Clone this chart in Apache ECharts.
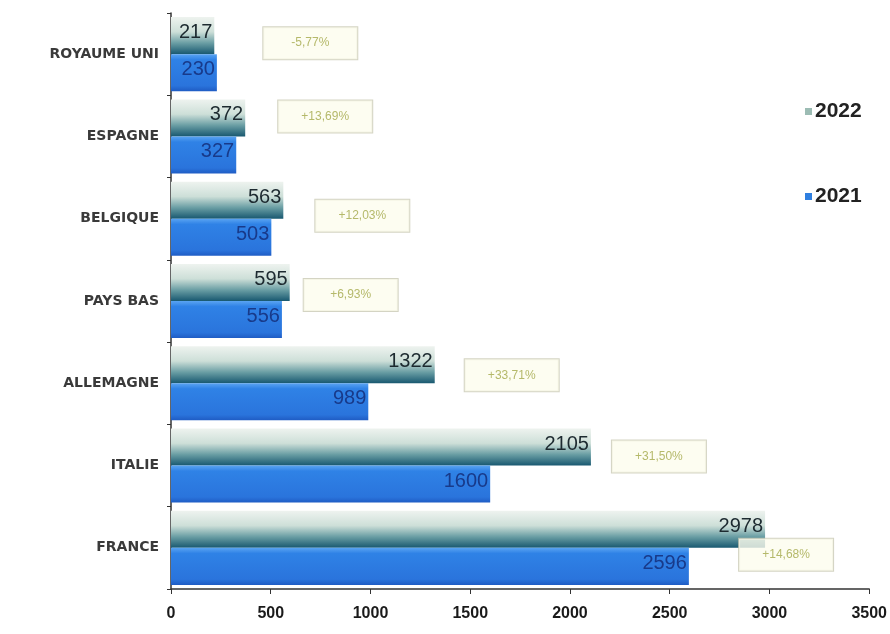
<!DOCTYPE html>
<html>
<head>
<meta charset="utf-8">
<script src="https://cdn.jsdelivr.net/npm/echarts@6/dist/echarts.min.js"></script>
<style>
html,body{margin:0;padding:0;background:#ffffff;}
#chart{width:890px;height:634px;}
</style>
</head>
<body>
<div id="chart"></div>
<script>
// ---- data ----
var categories = ['ROYAUME UNI', 'ESPAGNE', 'BELGIQUE', 'PAYS BAS', 'ALLEMAGNE', 'ITALIE', 'FRANCE'];
var values2022 = [217, 372, 563, 595, 1322, 2105, 2978];
var values2021 = [230, 327, 503, 556, 989, 1600, 2596];
var pctLabels = ['-5,77%', '+13,69%', '+12,03%', '+6,93%', '+33,71%', '+31,50%', '+14,68%'];
var xTicks = [0, 500, 1000, 1500, 2000, 2500, 3000, 3500];

// ---- layout of the percentage boxes (pixel offsets from bar end) ----
var pctOffsets = [[96, -11], [80, -20], [79, -3], [61, -6], [77, -8], [68, -9], [21, 7]];

var narrow = "'Liberation Sans Narrow', 'Liberation Sans', Arial, sans-serif";

var chart = echarts.init(document.getElementById('chart'));

var grad2022 = new echarts.graphic.LinearGradient(0, 0, 0, 1, [
  {offset: 0, color: '#eef3ef'},
  {offset: 0.4, color: '#cddfd8'},
  {offset: 0.7, color: '#6a9ea4'},
  {offset: 1, color: '#185870'}
]);
var grad2021 = new echarts.graphic.LinearGradient(0, 0, 0, 1, [
  {offset: 0, color: '#5aa4f2'},
  {offset: 0.15, color: '#2f82e6'},
  {offset: 0.85, color: '#2a74dc'},
  {offset: 1, color: '#1f5cc4'}
]);

var pctData = values2022.map(function (v, i) {
  return {
    value: [v, i],
    label: {
      formatter: pctLabels[i],
      offset: [pctOffsets[i][0], pctOffsets[i][1]]
    }
  };
});

chart.setOption({
  backgroundColor: '#ffffff',
  animation: false,
  grid: {left: 171, right: 19, top: 13, bottom: 45},
  legend: {
    orient: 'vertical',
    left: 800,
    top: 96,
    itemGap: 64,
    itemWidth: 7,
    itemHeight: 7,
    icon: 'rect',
    data: [
      {name: '2022', itemStyle: {color: '#9cbcb4'}},
      {name: '2021', itemStyle: {color: '#2f7fe0'}}
    ],
    textStyle: {fontFamily: narrow, fontSize: 21, fontWeight: 'bold', color: '#222222', padding: [0, 0, 0, -2]}
  },
  xAxis: {
    type: 'value',
    min: 0,
    max: 3500,
    interval: 500,
    splitLine: {show: false},
    axisLine: {show: true, lineStyle: {color: '#333333', width: 1.5}},
    axisTick: {show: true, length: 5, lineStyle: {color: '#333333'}},
    axisLabel: {
      margin: 17,
      fontFamily: narrow,
      fontSize: 16,
      fontWeight: 'bold',
      color: '#1a1a1a',
      formatter: function (v) { return xTicks.indexOf(v) >= 0 ? String(v) : ''; }
    }
  },
  yAxis: {
    type: 'category',
    data: categories,
    inverse: true,
    axisLine: {show: true, lineStyle: {color: '#333333', width: 1.5}},
    axisTick: {show: true, length: 4, lineStyle: {color: '#333333'}},
    axisLabel: {
      margin: 12,
      fontFamily: "'DejaVu Sans', sans-serif",
      fontSize: 14,
      fontWeight: 'bold',
      color: '#3a3a3a'
    }
  },
  series: [
    {
      name: '2022',
      type: 'bar',
      data: values2022,
      barCategoryGap: '10%',
      barGap: '0%',
      itemStyle: {color: grad2022},
      label: {
        show: true,
        position: 'insideRight',
        distance: 2,
        offset: [0, -3],
        fontFamily: narrow,
        fontSize: 20,
        color: '#1d2a30'
      }
    },
    {
      name: '2021',
      type: 'bar',
      data: values2021,
      itemStyle: {color: grad2021},
      label: {
        show: true,
        position: 'insideRight',
        distance: 2,
        offset: [0, -3],
        fontFamily: narrow,
        fontSize: 20,
        color: '#183a8a'
      }
    },
    {
      name: 'pct',
      type: 'scatter',
      symbolSize: 1,
      itemStyle: {color: 'rgba(0,0,0,0)'},
      silent: true,
      data: pctData,
      label: {
        show: true,
        position: 'inside',
        width: 80,
        height: 20,
        align: 'center',
        verticalAlign: 'middle',
        padding: [6, 7],
        backgroundColor: '#fcfcee',
        borderColor: '#c9c9b4',
        borderWidth: 1,
        fontFamily: narrow,
        fontSize: 12,
        color: '#a2a848'
      }
    }
  ]
});
</script>
</body>
</html>
